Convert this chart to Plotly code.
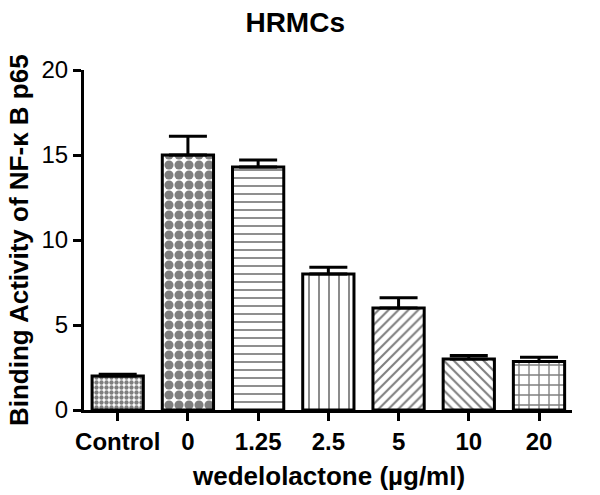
import plotly.graph_objects as go

categories = ["Control", "0", "1.25", "2.5", "5", "10", "20"]
values = [2.0, 15.0, 14.3, 8.0, 6.0, 3.0, 2.85]
errors = [0.1, 1.1, 0.4, 0.4, 0.6, 0.2, 0.25]
patterns = [".", ".", "-", "|", "/", "\\", "+"]
pattern_sizes = [5, 10, 8, 10, 7, 7, 10]
pattern_solidity = [0.6, 0.65, 0.22, 0.18, 0.3, 0.3, 0.25]

x_title = "<b>wedelolactone (µg/ml)</b>"
y_title = "<b>Binding Activity of NF-κ B p65</b>"

font_family = "Liberation Sans, Arial, sans-serif"

fig = go.Figure()
fig.add_trace(go.Bar(
    x=categories,
    y=values,
    width=0.73,
    marker=dict(
        color="white",
        line=dict(color="black", width=3),
        pattern=dict(
            shape=patterns,
            size=pattern_sizes,
            solidity=pattern_solidity,
            fgcolor="black",
            bgcolor="white",
            fillmode="overlay",
        ),
    ),
    error_y=dict(
        type="data",
        array=errors,
        arrayminus=[0] * len(errors),
        symmetric=False,
        color="black",
        thickness=3,
        width=19,
    ),
))

fig.update_layout(
    width=600,
    height=495,
    margin=dict(l=84, r=28, t=70, b=85),
    paper_bgcolor="white",
    plot_bgcolor="white",
    showlegend=False,
    font=dict(family=font_family, color="black", size=24),
    title=dict(
        text="<b>HRMCs</b>",
        x=0.492,
        xanchor="center",
        y=0.956,
        yanchor="middle",
        font=dict(size=28, family=font_family, color="black"),
    ),
    xaxis=dict(
        range=[-0.48, 6.47],
        showline=True,
        linecolor="black",
        linewidth=3,
        ticks="outside",
        ticklen=8,
        tickwidth=3,
        tickcolor="black",
        tickfont=dict(size=24, family=font_family),
        showgrid=False,
        zeroline=False,
        automargin=False,
        tickprefix="<b>",
        ticksuffix="</b>",
    ),
    yaxis=dict(
        range=[0, 20],
        tickvals=[0, 5, 10, 15, 20],
        showline=True,
        linecolor="black",
        linewidth=3,
        ticks="outside",
        ticklen=8,
        tickwidth=3,
        tickcolor="black",
        tickfont=dict(size=24, family=font_family),
        showgrid=False,
        zeroline=False,
        automargin=False,
        tickprefix="<b>",
        ticksuffix="</b>",
    ),
    annotations=[
        dict(text=x_title, xref="paper", yref="paper", x=0.5, y=-0.193,
             xanchor="center", yanchor="middle", showarrow=False,
             font=dict(size=26, family=font_family, color="black")),
        dict(text=y_title, xref="paper", yref="paper", x=-0.133, y=0.5,
             xanchor="center", yanchor="middle", showarrow=False, textangle=-90,
             font=dict(size=26, family=font_family, color="black")),
    ],
)

fig.write_html("out.html", config={"displayModeBar": False},
               post_script="document.body.style.margin='0';")
